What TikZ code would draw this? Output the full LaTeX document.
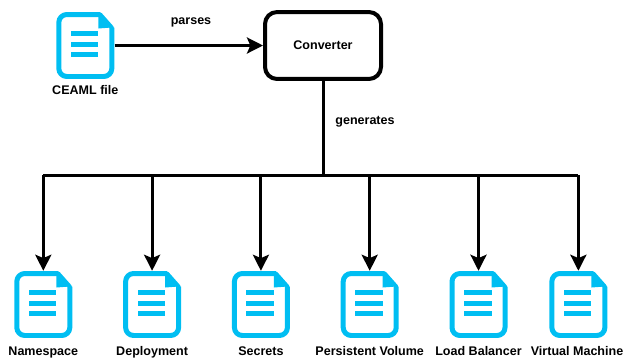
\documentclass[tikz,border=0pt]{standalone}
\usepackage{fontspec}
\setmainfont{Liberation Sans}
\usetikzlibrary{arrows.meta, positioning}

\definecolor{iconblue}{HTML}{00BEF2}

\begin{document}
\begin{tikzpicture}[x=0.75pt, y=-0.75pt, node distance=37.6pt]

  % Define styles for the different parts
  \tikzstyle{docicon} = [rectangle, inner sep=0pt, minimum width=43.6pt, minimum height=50.2pt, path picture={
    \begin{scope}[shift={(path picture bounding box.center)}]
      \fill[iconblue] (13,-31) -- (26.5,-18) -- (13,-17) -- cycle;
      \draw[iconblue, line width=3.75pt, line join=round, rounded corners=6pt] (15,-31) -- (-26.5,-31) -- (-26.5,31) -- (26.5,31) -- (26.5,-18);
      \draw[iconblue, line width=3pt, line cap=round] (15,-31) -- (26.5,-18);
      \fill[iconblue] (-14.5,6.5) rectangle (13,11.5);
      \fill[iconblue] (-14.5,-4) rectangle (13,1);
      \fill[iconblue] (-14.5,-15) rectangle (13,-10);
    \end{scope}}]
  \tikzstyle{conv} = [draw, rectangle, rounded corners=9pt, line width=3pt, minimum width=87pt, minimum height=50.2pt, font=\fontsize{9.4}{11}\selectfont\bfseries]
  \tikzstyle{caption} = [inner sep=0pt, font=\fontsize{9.4}{11}\selectfont\bfseries]
  \tikzstyle{flow} = [-{Stealth[length=12pt, width=12pt, inset=2.5pt]}, line width=2.25pt, black]
  \tikzstyle{plain} = [line width=2.25pt, black]

  \useasboundingbox (0,0) rectangle (623,358);

  \node (ceaml) [docicon] at (85.3,45.5) {};
  \node (converter) [conv] at (323,45.5) {Converter};

  \node (namespace) [docicon] at (43.3,304.5) {};
  \node (deployment) [docicon, right=of namespace] {};
  \node (secrets) [docicon, right=of deployment] {};
  \node (persistent) [docicon, right=of secrets] {};
  \node (balancer) [docicon, right=of persistent] {};
  \node (machine) [docicon, right=30.9pt of balancer] {};

  \node (ceaml_text) [caption, below=4.5pt of ceaml] {CEAML file};
  \node (namespace_text) [caption, below=6pt of namespace] {Namespace};
  \node (deployment_text) [caption, below=6pt of deployment] {Deployment};
  \node (secrets_text) [caption, below=6pt of secrets] {Secrets};
  \node (persistent_text) [caption, below=6pt of persistent] {Persistent Volume};
  \node (balancer_text) [caption, below=6pt of balancer] {Load Balancer};
  \node (machine_text) [caption, below=6pt of machine, xshift=-1pt] {Virtual Machine};

  \node (parses) [caption] at (191,22) {parses};
  \node (generates) [caption] at (365,122) {generates};

  \coordinate (bus) at (323,175);

  \draw[flow] (ceaml) -- (converter);
  \draw[plain] (converter) -- (bus);
  \draw[plain] (namespace |- bus) -- (machine |- bus);

  \draw[flow] (namespace |- bus) -- (namespace);
  \draw[flow] (deployment |- bus) -- (deployment);
  \draw[flow] (secrets |- bus) -- (secrets);
  \draw[flow] (persistent |- bus) -- (persistent);
  \draw[flow] (balancer |- bus) -- (balancer);
  \draw[flow] (machine |- bus) -- (machine);

\end{tikzpicture}
\end{document}
